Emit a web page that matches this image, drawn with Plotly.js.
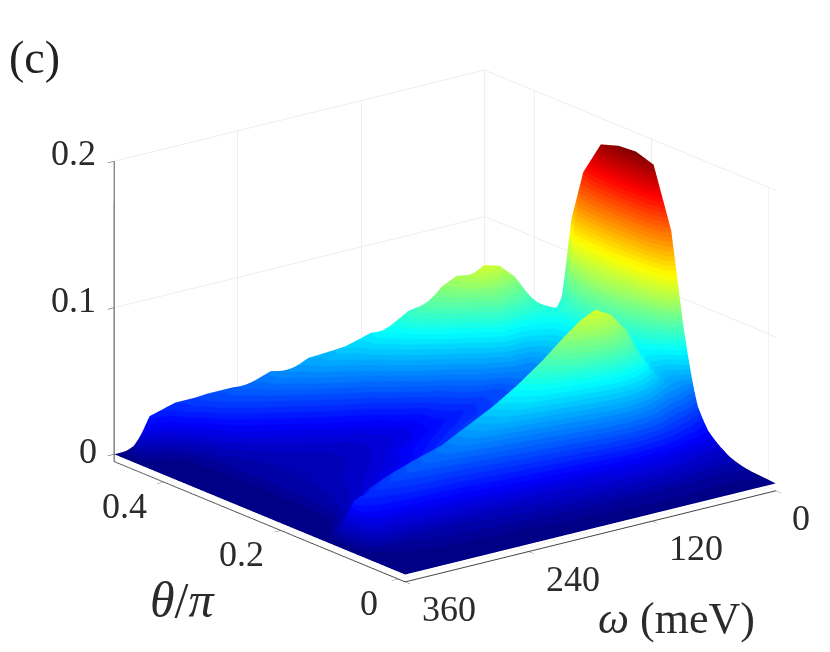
<!DOCTYPE html>
<html>
<head>
<meta charset="utf-8">
<script src="https://cdn.plot.ly/plotly-3.0.1.min.js"></script>
<style>html,body{margin:0;padding:0;background:#fff}</style>
</head>
<body>
<div id="plot" style="width:830px;height:652px"></div>
<script>
// theta/pi grid (columns)
const thetaVals = [-0.012,0.02,0.05,0.08,0.10,0.12,0.14,0.17,0.20,0.23,0.26,0.29,0.31,0.33,0.35,0.37,0.39,0.41,0.43,0.45,0.47,0.484];
// omega grid in meV (rows)
const omegaVals = [0,5,10,15,20,25,30,40,50,60,70,85,100,115,130,150,175,200,225,250,275,300,320,335,345,360];
// spectral weight, in units of 0.001
const weight = [
  [0,1,2,3,5,10,20,30,35,35,32,25,18,11,7,5,3,2,1,0,0,0],
  [0,3,6,10,16,30,55,80,90,90,85,70,50,30,20,14,9,5,3,1,0,0],
  [0,5,10,18,30,60,110,160,178,178,172,140,100,50,34,24,16,10,5,2,1,0],
  [0,6,13,25,42,90,150,190,194,193,189,165,130,60,40,28,19,12,6,3,1,0],
  [0,6,13,28,45,80,130,160,165,165,160,145,78,50,38,26,17,11,6,3,1,0],
  [0,5,14,30,48,65,105,125,128,128,126,120,60,46,32,21,14,9,5,3,1,0],
  [0,5,15,33,52,60,85,102,110,112,108,95,50,44,30,20,13,9,6,4,2,0],
  [0,5,16,37,55,62,72,84,90,92,88,76,66,52,38,27,18,13,9,6,3,0],
  [0,5,18,42,61,69,75,76,74,74,76,80,78,66,48,33,22,15,10,7,4,0],
  [0,6,20,48,71,80,84,76,66,63,68,82,89,80,56,38,26,18,12,8,5,0],
  [0,6,22,55,82,95,96,76,61,55,62,84,100,92,65,43,29,20,14,10,6,0],
  [0,6,24,62,92,108,104,74,55,47,50,87,110,100,71,47,32,22,16,11,7,0],
  [0,6,25,65,97,114,105,70,50,42,50,92,113,103,73,48,32,23,17,12,8,0],
  [0,6,24,62,92,109,97,63,44,35,40,75,101,105,81,53,36,25,18,13,9,0],
  [0,5,22,58,86,101,88,56,45,38,36,58,86,100,86,58,38,26,19,14,10,0],
  [0,5,19,52,77,89,75,50,41,34,30,41,63,84,84,63,41,28,21,16,11,0],
  [0,4,17,46,68,76,62,44,36,30,26,26,40,59,74,70,50,33,22,16,11,0],
  [0,4,15,41,60,65,52,38,31,26,21,18,24,36,53,65,59,41,27,18,13,0],
  [0,3,13,37,53,56,44,32,26,22,17,15,16,25,38,53,58,46,31,21,14,0],
  [0,3,11,33,47,47,36,26,20,16,13,12,13,16,24,37,50,50,37,24,13,0],
  [0,2,9,31,43,42,31,21,16,13,11,10,10,12,16,24,36,44,40,29,14,0],
  [0,2,8,30,39,36,26,15,11,10,9,9,9,9,10,13,22,34,40,34,13,0],
  [0,1,6,28,35,30,17,9,7,6,6,6,6,6,6,6,8,13,30,34,14,0],
  [0,0,5,27,32,20,7,1,0,0,0,0,0,0,0,0,0,1,10,31,14,0],
  [0,0,3,25,30,12,2,0,0,0,0,0,0,0,0,0,0,0,3,29,8,0],
  [0,0,0,0,0,0,0,0,0,0,0,0,0,0,0,0,0,0,0,0,0,0]
];
const thetaTicks = [0,0.2,0.4];
const omegaTicks = [0,120,240,360];
const zTicks = [0,0.1,0.2];

// matlab jet, 64 flat levels so the colour bands show
function jetColor(f) {
  const r = Math.min(4*f-1.5, -4*f+4.5), g = Math.min(4*f-0.5, -4*f+3.5), b = Math.min(4*f+0.5, -4*f+2.5);
  const c = v => Math.round(255*Math.max(0, Math.min(1, v)));
  return 'rgb(' + c(r) + ',' + c(g) + ',' + c(b) + ')';
}
let jet = [];
for (let i = 0; i < 64; i++) {
  const col = jetColor((i+0.5)/64);
  jet.push([i/64, col]);
  jet.push([i == 63 ? 1 : (i+1)/64 - 0.0001, col]);
}

const serif = 'Liberation Serif, serif';
const ink = '#2b2b2b';
function label(x, y, z, text, ax, ay) {
  return {x: x, y: y, z: z, text: text, showarrow: false, xshift: ax, yshift: ay,
          font: {family: serif, size: 36, color: ink}};
}
let notes = [];
for (const t of thetaTicks) { notes.push(label(t, 360, -0.005, String(t), t == 0 ? -29 : -39, -24)); }
for (const w of omegaTicks) { notes.push(label(-0.012, w, -0.005, String(w), w == 0 ? 25 : 44, -27)); }
for (const k of zTicks) { notes.push(label(0.484, 360, k, String(k), k == 0 ? -26 : -41, k == 0 ? 3 : 8)); }

const surface = {
  type: 'surface', x: thetaVals, y: omegaVals,
  z: weight.map(row => row.map(v => v/1000)),
  colorscale: jet, cmin: 0, cmax: 0.195, showscale: false, hoverinfo: 'skip',
  lighting: {ambient: 1, diffuse: 0, specular: 0, roughness: 1, fresnel: 0}
};

function axisStyle(range, ticks) {
  return {
    range: range, tickvals: ticks, showticklabels: false, title: {text: ''},
    showbackground: false, showgrid: true, gridcolor: '#dedede', gridwidth: 1,
    showline: true, linecolor: '#444444', linewidth: 2, zeroline: false,
    ticks: 'outside', ticklen: 8, tickcolor: '#444444', showspikes: false
  };
}

const layout = {
  width: 830, height: 652, margin: {l: 0, r: 0, t: 0, b: 0},
  paper_bgcolor: '#ffffff',
  scene: {
    domain: {x: [0.0724, 1], y: [0, 1]},
    xaxis: axisStyle([-0.012, 0.484], thetaTicks),
    yaxis: axisStyle([0, 360], omegaTicks),
    zaxis: axisStyle([-0.005, 0.2], zTicks),
    aspectmode: 'manual',
    aspectratio: {x: 1.462, y: 1.436, z: 0.972},
    camera: {
      projection: {type: 'orthographic'},
      eye: {x: -1.53, y: 1.18, z: 0.65},
      center: {x: 0, y: 0, z: 0},
      up: {x: 0, y: 0, z: 1}
    },
    annotations: notes
  },
  annotations: [
    {xref: 'paper', yref: 'paper', x: 34/830, y: 1 - 57/652, xanchor: 'center', yanchor: 'middle', text: '(c)', showarrow: false, font: {family: serif, size: 46, color: '#222222'}},
    {xref: 'paper', yref: 'paper', x: 182/830, y: 1 - 600/652, xanchor: 'center', yanchor: 'middle', text: '<i>θ</i>/<i>π</i>', showarrow: false, font: {family: serif, size: 50, color: ink}},
    {xref: 'paper', yref: 'paper', x: 676/830, y: 1 - 618/652, xanchor: 'center', yanchor: 'middle', text: '<i>ω</i> (meV)', showarrow: false, font: {family: serif, size: 44, color: ink}}
  ],
  showlegend: false
};

Plotly.newPlot('plot', [surface], layout, {displayModeBar: false});
</script>
</body>
</html>
